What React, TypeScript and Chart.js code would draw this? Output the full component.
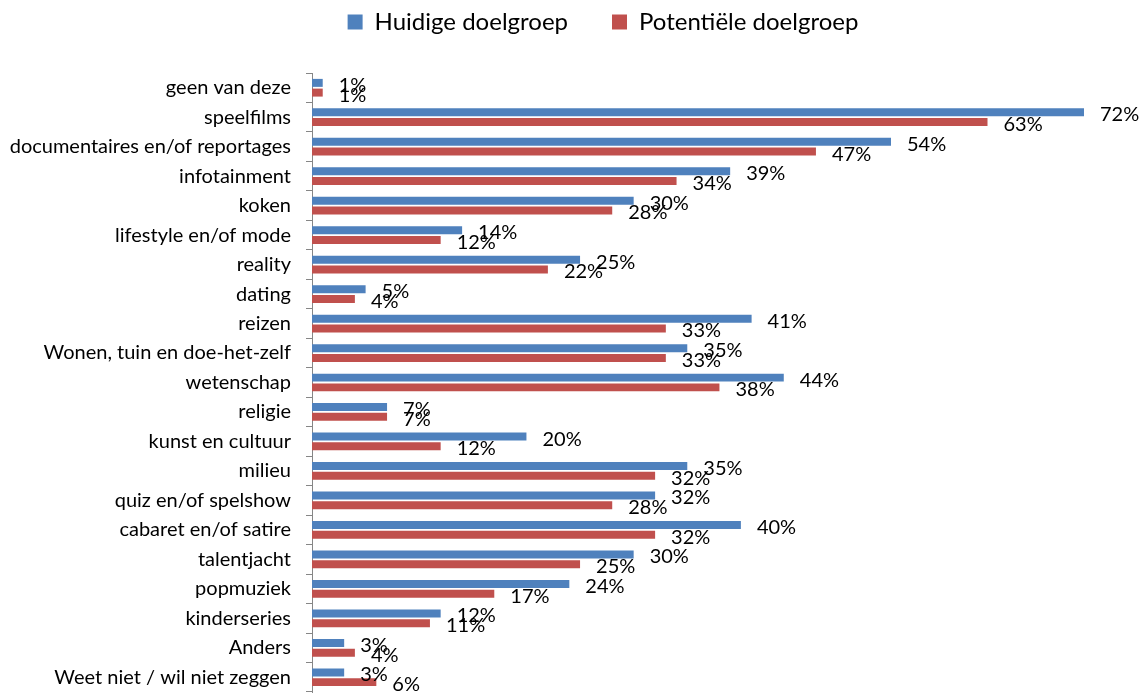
import React, { useEffect, useRef } from "react";
import { Chart, registerables } from "chart.js";

Chart.register(...registerables);

const categories = [
  "geen van deze",
  "speelfilms",
  "documentaires en/of reportages",
  "infotainment",
  "koken",
  "lifestyle en/of mode",
  "reality",
  "dating",
  "reizen",
  "Wonen, tuin en doe-het-zelf",
  "wetenschap",
  "religie",
  "kunst en cultuur",
  "milieu",
  "quiz en/of spelshow",
  "cabaret en/of satire",
  "talentjacht",
  "popmuziek",
  "kinderseries",
  "Anders",
  "Weet niet / wil niet zeggen",
];

const huidige = [1, 72, 54, 39, 30, 14, 25, 5, 41, 35, 44, 7, 20, 35, 32, 40, 30, 24, 12, 3, 3];
const potentiele = [1, 63, 47, 34, 28, 12, 22, 4, 33, 33, 38, 7, 12, 32, 28, 32, 25, 17, 11, 4, 6];

const seriesNames = ["Huidige doelgroep", "Potentiële doelgroep"];
const FONT = "Lato";

const dataLabels = {
  id: "dataLabels",
  afterDatasetsDraw(chart: any) {
    const ctx = chart.ctx;
    ctx.save();
    ctx.font = `20px ${FONT}`;
    ctx.fillStyle = "#000";
    ctx.textAlign = "left";
    ctx.textBaseline = "middle";
    chart.data.datasets.forEach((ds: any, di: number) => {
      const meta = chart.getDatasetMeta(di);
      meta.data.forEach((el: any, i: number) => {
        ctx.fillText(ds.data[i] + "%", el.x + 16, el.y + 2.5);
      });
    });
    ctx.restore();
  },
};

const legendShift = {
  id: "legendShift",
  beforeInit(chart: any) {
    const lg = chart.legend;
    if (!lg) return;
    const origFit = lg.fit;
    lg.fit = function () {
      origFit.call(this);
      this.height = 73;
    };
    const origDraw = lg.draw;
    lg.draw = function () {
      const ctx = this.ctx;
      ctx.save();
      ctx.translate(61, -34);
      origDraw.call(this);
      ctx.restore();
    };
  },
};

export default function App() {
  const ref = useRef<HTMLCanvasElement>(null);
  useEffect(() => {
    if (!ref.current) return;
    const chart = new Chart(ref.current, {
      type: "bar",
      data: {
        labels: categories,
        datasets: [
          {
            label: seriesNames[0],
            data: huidige,
            backgroundColor: "#4F81BD",
            borderWidth: 0,
            categoryPercentage: 0.66,
            barPercentage: 0.82,
          },
          {
            label: seriesNames[1],
            data: potentiele,
            backgroundColor: "#C0504D",
            borderWidth: 0,
            categoryPercentage: 0.66,
            barPercentage: 0.82,
          },
        ],
      },
      options: {
        indexAxis: "y",
        animation: false,
        responsive: true,
        maintainAspectRatio: false,
        layout: { padding: { left: 0, right: 60, top: 0, bottom: 3 } },
        plugins: {
          tooltip: { enabled: false },
          legend: {
            position: "top",
            align: "center",
            labels: {
              font: { family: FONT, size: 24 },
              color: "#000",
              boxWidth: 15,
              boxHeight: 15,
              padding: 44,
            },
          },
        },
        scales: {
          x: {
            display: false,
            min: 0,
            max: 72,
          },
          y: {
            afterFit: (s: any) => {
              s.width = 312;
              s.paddingTop = 0;
              s.paddingBottom = 0;
            },
            grid: {
              display: true,
              drawOnChartArea: false,
              drawTicks: true,
              tickLength: 6,
              offset: true,
              color: "#868686",
              lineWidth: 1,
            },
            border: { display: true, color: "#868686", width: 1 },
            ticks: {
              padding: 15,
              color: "#000",
              autoSkip: false,
              font: { family: FONT, size: 20 },
            },
          },
        },
      },
      plugins: [dataLabels, legendShift],
    });
    return () => chart.destroy();
  }, []);
  return (
    <div style={{ position: "absolute", left: 0, top: 0, width: 1144, height: 695 }}>
      <canvas ref={ref} />
    </div>
  );
}
